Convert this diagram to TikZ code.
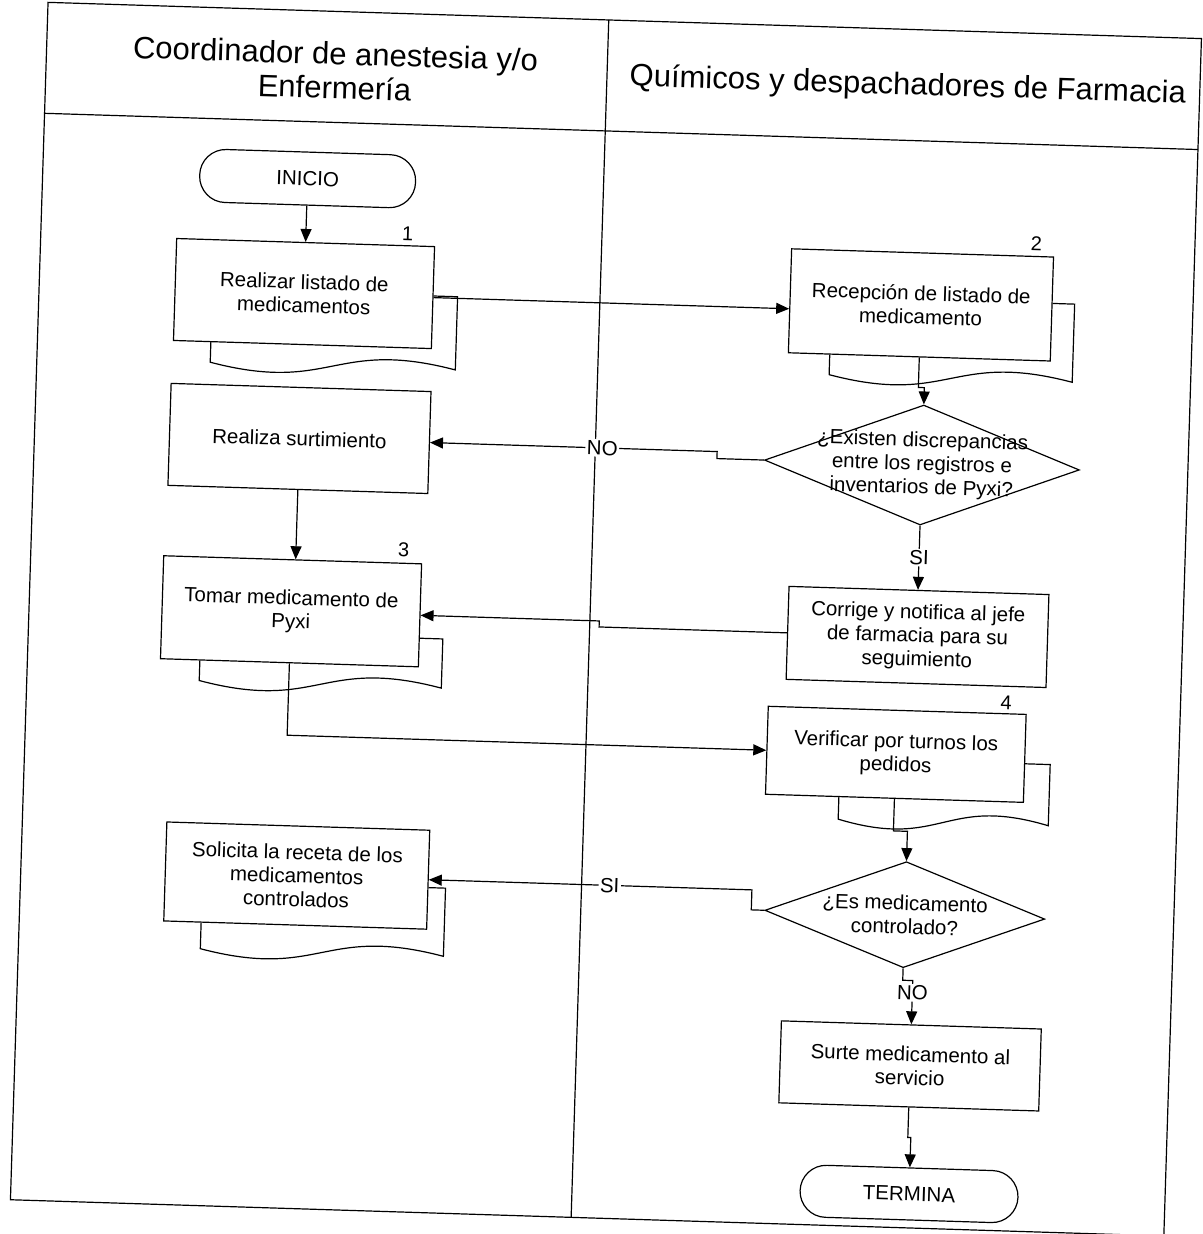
\documentclass[tikz,border=0pt]{standalone}
\usepackage{fontspec}
\setmainfont{Liberation Sans}
\usetikzlibrary{shapes.geometric,arrows.meta,calc}
% back sheet of a "multiple documents" shape: node, left inset, right overhang, top offset, bottom overhang
\newcommand{\backdoc}[5]{%
  \coordinate (#1-bl) at ($(#1.south west)+(#2,#5)$);
  \coordinate (#1-br) at ($(#1.south east)+(#3,#5)$);
  \coordinate (#1-m) at ($(#1-bl)!0.5!(#1-br)$);
  \draw[ln] ($(#1.south west)+(#2,0)$) -- (#1-bl)
    .. controls ($(#1-m)+(0,28)$) and ($(#1-m)+(0,-28)$) .. (#1-br)
    -- ($(#1.north east)+(#3,#4)$) -- ($(#1.north east)+(0,#4)$);
}
\begin{document}
\begin{tikzpicture}[x=1pt,y=-1pt]
\tikzset{
  ln/.style={line width=1.2pt},
  txt/.style={font=\fontsize{20.5}{23.5}\selectfont, align=center},
  box/.style={draw, ln, rectangle, inner sep=0pt, txt},
  term/.style={draw, ln, rectangle, rounded corners=26pt, inner sep=0pt, txt,
               minimum width=216pt, minimum height=53pt},
  dia/.style={draw, ln, diamond, inner sep=0pt},
  arr/.style={ln, -{Triangle[length=13pt,width=11pt]}},
  lbl/.style={txt, fill=white, inner sep=1.5pt},
  num/.style={font=\fontsize{20}{22}\selectfont, inner sep=0pt},
  head/.style={font=\fontsize{31}{34}\selectfont, align=center},
}
\useasboundingbox (0,0) rectangle (1202,1234);
\fill[white] (0,0) rectangle (1202,1234);
\begin{pgflowlevelscope}{\pgftransformshift{\pgfpoint{601pt}{-617pt}}\pgftransformrotate{-1.8}\pgftransformshift{\pgfpoint{-601pt}{617pt}}}
% swimlane frame
\draw[ln] (29,20) rectangle (1183,1218);
\draw[ln] (29,131) -- (1183,131);
\draw[ln] (590,20) -- (590,1218);
\node[head] (h1) at (318,79) {Coordinador de anestesia y/o\\Enfermería};
\node[head] (h2) at (891,77) {Químicos y despachadores de Farmacia};
% shapes
\node[term] (inicio) at (294,188) {INICIO};
\node[box, minimum width=258pt, minimum height=102pt] (b1) at (294,303) {Realizar listado de\\medicamentos};
\node[box, minimum width=262pt, minimum height=104pt] (b2) at (911,295) {Recepción de listado de\\medicamento};
\node[box, minimum width=260pt, minimum height=102pt] (rs) at (294,448) {Realiza surtimiento};
\node[dia, minimum width=315pt, minimum height=120pt] (d1) at (917,455) {};
\node[txt] (d1t) at (d1.center) {¿Existen discrepancias\\entre los registros e\\inventarios de Pyxi?};
\node[box, minimum width=258pt, minimum height=103pt] (b3) at (291,621) {Tomar medicamento de\\Pyxi};
\node[box, minimum width=260pt, minimum height=93pt] (co) at (918,627) {Corrige y notifica al jefe\\de farmacia para su\\seguimiento};
\node[box, minimum width=258pt, minimum height=88pt] (b4) at (900,745) {Verificar por turnos los\\pedidos};
\node[dia, minimum width=280pt, minimum height=106pt] (d2) at (914,905) {};
\node[txt] (d2t) at (d2.center) {¿Es medicamento\\controlado?};
\node[box, minimum width=263pt, minimum height=99pt] (so) at (305,885) {Solicita la receta de los\\medicamentos\\controlados};
\node[box, minimum width=260pt, minimum height=82pt] (su) at (924,1056) {Surte medicamento al\\servicio};
\node[term, minimum width=218pt, minimum height=52pt] (te) at (927,1184) {TERMINA};
% back sheets
\backdoc{b1}{38}{24}{50}{20}
\backdoc{b2}{42}{22}{47}{20}
\backdoc{b3}{40}{23}{75}{20}
\backdoc{b4}{74}{25}{50}{22}
\backdoc{so}{38}{17}{58}{26}
% step numbers
\node[num] (n1) at ($(b1.north east)+(-28,-11)$) {1};
\node[num] (n2) at ($(b2.north east)+(-18,-12)$) {2};
\node[num] (n3) at ($(b3.north east)+(-19,-13)$) {3};
\node[num] (n4) at ($(b4.north east)+(-21,-10)$) {4};
% connectors
\draw[arr] (inicio.south) -- (b1.north);
\draw[arr] (b1.east) -- (b1.east -| b2.west);
\draw[arr] (b2.south) -- ++(0,30) -| (d1.north);
\draw[arr] (d1.west) -- ++(-47,0) |- (rs.east) node[lbl, pos=0.7] (lno1) {NO};
\draw[arr] (rs.south) -- (rs.south |- b3.north);
\draw[arr] (d1.south) -- (d1.south |- co.north) node[lbl, midway] (lsi1) {SI};
\draw[arr] (co.west) -- ++(-188,0) |- (b3.east);
\draw[arr] (b3.south) |- (b4.west);
\draw[arr] (b4.south) -- ++(0,32) -| (d2.north);
\draw[arr] (d2.west) -- ++(-13,0) |- (so.east) node[lbl, pos=0.72] (lsi2) {SI};
\draw[arr] (d2.south) -- ++(0,12) -| (su.north) node[lbl, pos=0.64] (lno2) {NO};
\draw[arr] (su.south) -- ++(0,30) -| (te.north);
\end{pgflowlevelscope}
\end{tikzpicture}
\end{document}
